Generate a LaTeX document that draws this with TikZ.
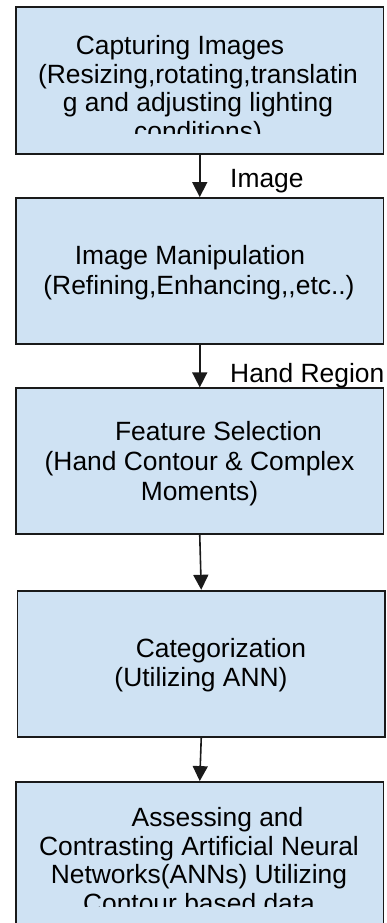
\documentclass[tikz,border=0pt]{standalone}
\usepackage{fontspec}
\setmainfont{Liberation Sans}
\usetikzlibrary{arrows.meta}
\definecolor{cBox}{HTML}{CFE2F3}
\definecolor{cLine}{HTML}{1A1A1A}

\begin{document}
\begin{tikzpicture}[
    x=1pt, y=1pt, font=\fontsize{26.4}{30}\selectfont,
    box/.style={draw=cLine, line width=1.8pt, fill=cBox, inner sep=0pt},
    txt/.style={align=center, inner sep=0pt, anchor=base},
    tight/.style={font=\fontsize{26.4}{28.5}\selectfont},
    lbl/.style={inner sep=0pt, anchor=base west},
    flow/.style={-{Triangle[length=15pt, width=15pt]}, line width=1.6pt, cLine},
]
\useasboundingbox (0,0) rectangle (387,923);

% ===========================================================================
% Etapas del proceso
% ===========================================================================
\node[box, minimum width=367.5pt, minimum height=147pt] (capture) at (199.75,842.5) {};
\node[box, minimum width=367.5pt, minimum height=146pt] (manip)   at (199.75,652) {};
\node[box, minimum width=367.5pt, minimum height=146pt] (feature) at (199.75,461.7) {};
\node[box, minimum width=367.5pt, minimum height=146pt] (categ)   at (201.25,259.3) {};
\node[box, minimum width=367.5pt, minimum height=161pt] (assess)  at (199.75,60.5) {};

% ----- textos (base = linea de base de la ultima linea) -----
\begin{scope}
  \clip (16,789) rectangle (383,916);
  \node[txt, tight] (captureTxt) at (198,782.5)
        {Capturing Images\hspace*{36pt}\\(Resizing,rotating,translatin\\g and adjusting lighting\\conditions)};
\end{scope}

\node[txt] (manipTxt) at (199,628)
      {Image Manipulation\hspace*{18pt}\\(Refining,Enhancing,\kern0pt,etc..)};

\node[txt] (featureTxt) at (199.5,422)
      {\hspace*{38pt}Feature Selection\\(Hand Contour \& Complex\\Moments)};

\node[txt, font=\fontsize{26.4}{29}\selectfont] (categTxt) at (201,236)
      {\hspace*{40pt}Categorization\\(Utilizing ANN)};

\begin{scope}
  \clip (16,16) rectangle (383,141);
  \node[txt, tight] (assessTxt) at (199,10.5)
        {\hspace*{37pt}Assessing and\\Contrasting Artificial Neural\\Networks(ANNs) Utilizing\\Contour based data};
\end{scope}

% ----- flechas entre etapas -----
\draw[flow] (capture.south) -- (manip.north);
\draw[flow] (manip.south) -- (feature.north);
\draw[flow] (feature.south) -- (categ.north);
\draw[flow] (categ.south) -- (assess.north);

\node[lbl] (imageLbl) at (230,735) {Image};
\node[lbl] (handLbl)  at (230,540) {Hand Region};

\end{tikzpicture}
\end{document}
